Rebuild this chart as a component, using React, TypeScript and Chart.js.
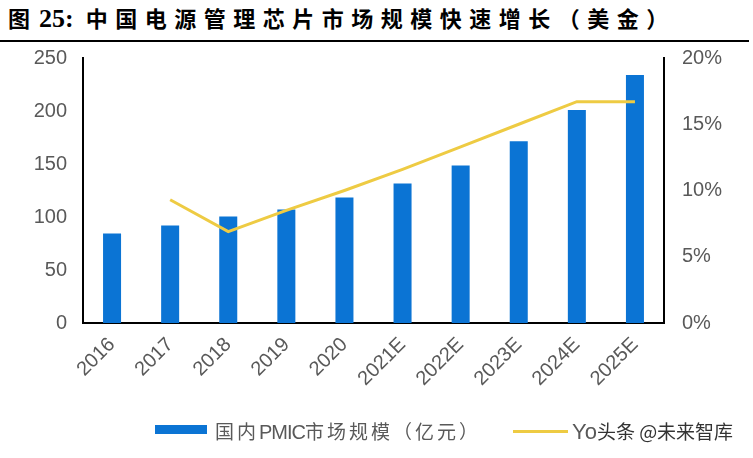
import React, { useEffect, useRef } from "react";
import { Chart, registerables } from "chart.js";

Chart.register(...registerables);

const categories = ["2016", "2017", "2018", "2019", "2020", "2021E", "2022E", "2023E", "2024E", "2025E"];
const marketSize = [84.5, 92, 100.5, 107, 118.5, 131.5, 148.5, 171.5, 201, 234];
const yoy = [null, 9.3, 6.9, 8.5, 10.0, 11.6, 13.3, 15.0, 16.7, 16.7];
const leftTicks = [0, 50, 100, 150, 200, 250];
const rightTicks = [0, 5, 10, 15, 20];

const BLUE = "#0B74D4";
const YELLOW = "#EECB43";
const GRAY = "#595959";
const FONT = "'Liberation Sans', Arial, sans-serif";
const CJK = "'Noto Sans CJK SC', sans-serif";

export default function App() {
  const ref = useRef<HTMLCanvasElement | null>(null);

  useEffect(() => {
    if (!ref.current) return;
    const chart = new Chart(ref.current, {
      data: {
        labels: categories,
        datasets: [
          {
            type: "line",
            label: "YoY",
            data: yoy,
            yAxisID: "y2",
            borderColor: YELLOW,
            borderWidth: 3,
            pointRadius: 0,
            tension: 0,
            order: 0,
          } as any,
          {
            type: "bar",
            label: "国内PMIC市场规模（亿元）",
            data: marketSize,
            yAxisID: "y",
            backgroundColor: BLUE,
            barPercentage: 0.31,
            categoryPercentage: 1,
            order: 1,
          } as any,
        ],
      },
      options: {
        animation: false,
        responsive: false,
        maintainAspectRatio: false,
        layout: { padding: { top: 5, left: 0, right: 0, bottom: 0 } },
        plugins: { legend: { display: false }, tooltip: { enabled: false } },
        scales: {
          x: {
            grid: { display: false, drawTicks: false },
            border: { display: true, color: "#000", width: 2 },
            ticks: {
              color: GRAY,
              font: { family: FONT, size: 20 },
              minRotation: 45,
              maxRotation: 45,
              padding: 10,
            },
            afterFit: (s: any) => {
              s.height = 102;
            },
          },
          y: {
            position: "left",
            min: 0,
            max: 250,
            afterBuildTicks: (s: any) => {
              s.ticks = leftTicks.map((v) => ({ value: v }));
            },
            grid: { display: false, drawOnChartArea: false, drawTicks: true, tickLength: 6, tickColor: "#000", tickWidth: 2 },
            border: { display: true, color: "#000", width: 2 },
            ticks: { color: GRAY, font: { family: FONT, size: 20 }, padding: 10 },
            afterFit: (s: any) => {
              s.width = 83;
            },
          },
          y2: {
            position: "right",
            min: 0,
            max: 20,
            afterBuildTicks: (s: any) => {
              s.ticks = rightTicks.map((v) => ({ value: v }));
            },
            grid: { display: false, drawOnChartArea: false, drawTicks: true, tickLength: 6, tickColor: "#000", tickWidth: 2 },
            border: { display: true, color: "#000", width: 2 },
            ticks: {
              color: GRAY,
              font: { family: FONT, size: 20 },
              padding: 12,
              callback: (v: any) => v + "%",
            },
            afterFit: (s: any) => {
              s.width = 89;
            },
          },
        },
      },
    });
    return () => chart.destroy();
  }, []);

  return (
    <div style={{ position: "absolute", left: 0, top: 0, width: 753, height: 458, background: "#fff", overflow: "hidden" }}>
      <div
        style={{
          position: "absolute",
          left: 8,
          top: 2,
          fontFamily: CJK,
          fontWeight: 700,
          fontSize: 22,
          letterSpacing: 7.5,
          lineHeight: "30px",
          color: "#000",
          whiteSpace: "nowrap",
        }}
      >
        <span style={{ letterSpacing: 0, marginRight: 9 }}>图</span>
        <span style={{ fontFamily: "'Liberation Serif', 'Times New Roman', serif", fontSize: 26, letterSpacing: 0 }}>25:</span>
        <span style={{ marginLeft: 12 }}>中国电源管理芯片市场规模快速增长（美金）</span>
      </div>
      <div style={{ position: "absolute", left: 0, top: 40, width: 749, height: 2, background: "#000" }} />
      <canvas ref={ref} width={753} height={391} style={{ position: "absolute", left: 0, top: 34, width: 753, height: 391 }} />
      <div style={{ position: "absolute", left: 155, top: 425, width: 52, height: 9, background: BLUE }} />
      <div
        style={{
          position: "absolute",
          left: 215,
          top: 419,
          fontFamily: CJK,
          fontSize: 19,
          lineHeight: "24px",
          color: GRAY,
          whiteSpace: "nowrap",
          letterSpacing: 3,
        }}
      >
        国内<span style={{ fontFamily: FONT, fontSize: 20, letterSpacing: -1 }}>PMIC</span>市场规模（亿元）
      </div>
      <div style={{ position: "absolute", left: 513, top: 430, width: 55, height: 3, background: YELLOW }} />
      <div
        style={{
          position: "absolute",
          left: 572,
          top: 419,
          fontFamily: CJK,
          fontSize: 19,
          lineHeight: "24px",
          color: "#333",
          whiteSpace: "nowrap",
        }}
      >
        <span style={{ fontFamily: FONT, fontSize: 22, color: GRAY }}>Yo</span>头条 @未来智库
      </div>
    </div>
  );
}
